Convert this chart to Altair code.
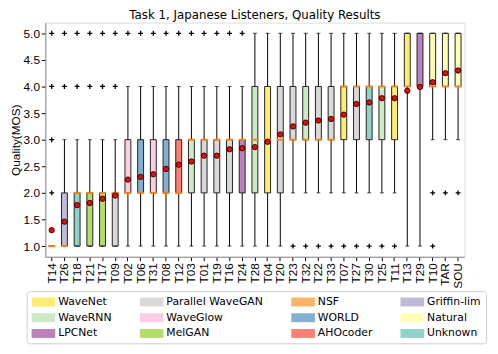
import altair as alt
import pandas as pd

systems = ["T14", "T26", "T18", "T21", "T17", "T09", "T02", "T06", "T31", "T08",
           "T12", "T03", "T01", "T19", "T16", "T24", "T28", "T04", "T20", "T23",
           "T32", "T22", "T33", "T07", "T27", "T30", "T25", "T11", "T13", "T29",
           "T10", "TAR", "SOU"]
vocoders = ["NSF", "Griffin-lim", "Unknown", "MelGAN", "MelGAN", "Parallel WaveGAN",
            "WaveGlow", "WORLD", "WaveGlow", "WORLD", "AHOcoder", "WaveRNN",
            "Parallel WaveGAN", "Parallel WaveGAN", "Parallel WaveGAN", "LPCNet",
            "WaveRNN", "WaveNet", "Parallel WaveGAN", "Parallel WaveGAN", "WaveRNN",
            "Parallel WaveGAN", "Parallel WaveGAN", "WaveNet", "Parallel WaveGAN",
            "Unknown", "WaveRNN", "WaveNet", "WaveNet", "LPCNet", "Natural",
            "Natural", "Natural"]
q1 = [1, 1, 1, 1, 1, 1, 2, 2, 2, 2, 2, 2, 2, 2, 2, 2, 2, 2, 2, 3, 3, 3, 3, 3, 3, 3,
      3, 3, 4, 4, 4, 4, 4]
medians = [1, 1, 2, 2, 2, 2, 2, 2, 2, 2, 2, 3, 3, 3, 3, 3, 3, 3, 3, 3, 3, 3, 3, 4,
           4, 4, 4, 4, 4, 4, 4, 4, 4]
q3 = [1, 2, 2, 2, 2, 2, 3, 3, 3, 3, 3, 3, 3, 3, 3, 3, 4, 4, 4, 4, 4, 4, 4, 4, 4, 4,
      4, 4, 5, 5, 5, 5, 5]
whisker_lo = [1, 1, 1, 1, 1, 1, 1, 1, 1, 1, 1, 1, 1, 1, 1, 1, 1, 1, 1, 2, 2, 2, 2,
              2, 2, 2, 2, 2, 1, 1, 3, 3, 3]
whisker_hi = [1, 3, 3, 3, 3, 3, 4, 4, 4, 4, 4, 4, 4, 4, 4, 4, 5, 5, 5, 5, 5, 5, 5,
              5, 5, 5, 5, 5, 5, 5, 5, 5, 5]
means = [1.30, 1.46, 1.77, 1.81, 1.89, 1.95, 2.25, 2.30, 2.35, 2.45, 2.53, 2.59,
         2.70, 2.70, 2.82, 2.84, 2.86, 2.96, 3.10, 3.25, 3.32, 3.36, 3.39, 3.47,
         3.67, 3.70, 3.78, 3.78, 3.92, 3.99, 4.08, 4.25, 4.30]
outliers = [[2, 3, 4, 5], [4, 5], [4, 5], [4, 5], [4, 5], [4, 5], [5], [5], [5], [5],
            [5], [5], [5], [5], [5], [5], [], [], [], [1], [1], [1], [1], [1], [1],
            [1], [1], [1], [], [], [1, 2], [2], [2]]

legend_order = ["WaveNet", "WaveRNN", "LPCNet",
                "Parallel WaveGAN", "WaveGlow", "MelGAN",
                "NSF", "WORLD", "AHOcoder",
                "Griffin-lim", "Natural", "Unknown"]
legend_colors = ["#ffed6f", "#ccebc5", "#bc80bd",
                 "#d9d9d9", "#fccde5", "#b3de69",
                 "#fdb462", "#80b1d3", "#fb8072",
                 "#bebada", "#ffffb3", "#8dd3c7"]
y_ticks = [1.0, 1.5, 2.0, 2.5, 3.0, 3.5, 4.0, 4.5, 5.0]

df = pd.DataFrame({"system": systems, "vocoder": vocoders, "q1": q1, "median": medians,
                   "q3": q3, "wlo": whisker_lo, "whi": whisker_hi, "mean": means})
df_out = pd.DataFrame([{"system": s, "value": v} for s, vals in zip(systems, outliers) for v in vals])

FONT = "DejaVu Sans"
x = alt.X("system:N",
          scale=alt.Scale(domain=systems, paddingInner=0, paddingOuter=0),
          axis=alt.Axis(title=None, labelAngle=-90, labelFontSize=12, tickSize=4,
                        labelPadding=2, labelColor="black", tickColor="black"))
yscale = alt.Scale(domain=[0.8, 5.2], nice=False, zero=False)
yaxis = alt.Axis(title="Quality(MOS)", values=y_ticks, format=".1f", grid=False,
                 tickSize=4, labelFontSize=12, titleFontSize=12, titleFontWeight="normal",
                 labelColor="black", tickColor="black", titleColor="black", labelPadding=2,
                 titlePadding=1)

base = alt.Chart(df)

whiskers = base.mark_rule(color="black", strokeWidth=1).encode(
    x=x, y=alt.Y("wlo:Q", scale=yscale, axis=yaxis), y2="whi:Q")

boxes = base.mark_bar(size=6, stroke="#222222", strokeWidth=1).encode(
    x=x, y=alt.Y("q1:Q", scale=yscale, axis=yaxis), y2="q3:Q",
    fill=alt.Fill("vocoder:N",
                  scale=alt.Scale(domain=legend_order, range=legend_colors),
                  legend=alt.Legend(title=None, orient="none", legendX=-19, legendY=273,
                                    columns=4, symbolType="M-1,-0.75H3V0.75H-1Z",
                                    symbolSize=144, symbolStrokeWidth=0,
                                    labelFontSize=11, labelFont=FONT, labelColor="black",
                                    strokeColor="#cccccc", cornerRadius=3, padding=5,
                                    fillColor="white", columnPadding=28, rowPadding=5,
                                    labelOffset=15, symbolOpacity=1)))

cap_lo = base.mark_tick(size=4, thickness=1, color="black").encode(
    x=x, y=alt.Y("wlo:Q", scale=yscale, axis=yaxis))
cap_hi = base.mark_tick(size=4, thickness=1, color="black").encode(
    x=x, y=alt.Y("whi:Q", scale=yscale, axis=yaxis))

median_tick = base.mark_tick(size=7, thickness=2, color="#ff7f0e", opacity=1).encode(
    x=x, y=alt.Y("median:Q", scale=yscale, axis=yaxis))

out_pts = alt.Chart(df_out).mark_point(shape="M-1,0H1M0,-1V1", size=25, filled=False,
                                       stroke="black", strokeWidth=1.3, opacity=1).encode(
    x=x, y=alt.Y("value:Q", scale=yscale, axis=yaxis))

mean_pts = base.mark_point(shape="circle", size=30, filled=True, fill="#ff0000",
                           stroke="black", strokeWidth=0.8, opacity=1).encode(
    x=x, y=alt.Y("mean:Q", scale=yscale, axis=yaxis))

chart = alt.layer(whiskers, boxes, cap_lo, cap_hi, median_tick, out_pts, mean_pts).properties(
    width=426, height=238,
    autosize=alt.AutoSizeParams(type="none"),
    padding={"left": 38, "top": 12, "right": 26, "bottom": 96},
    title=alt.TitleParams("Task 1, Japanese Listeners, Quality Results", fontSize=12,
                          fontWeight="normal", font=FONT, offset=1, color="black"),
).configure_view(stroke="black", strokeWidth=1).configure_axis(
    labelFont=FONT, titleFont=FONT, domainColor="black"
).configure(background="white")

chart.save("out.html", embed_options={"renderer": "svg", "actions": False})
